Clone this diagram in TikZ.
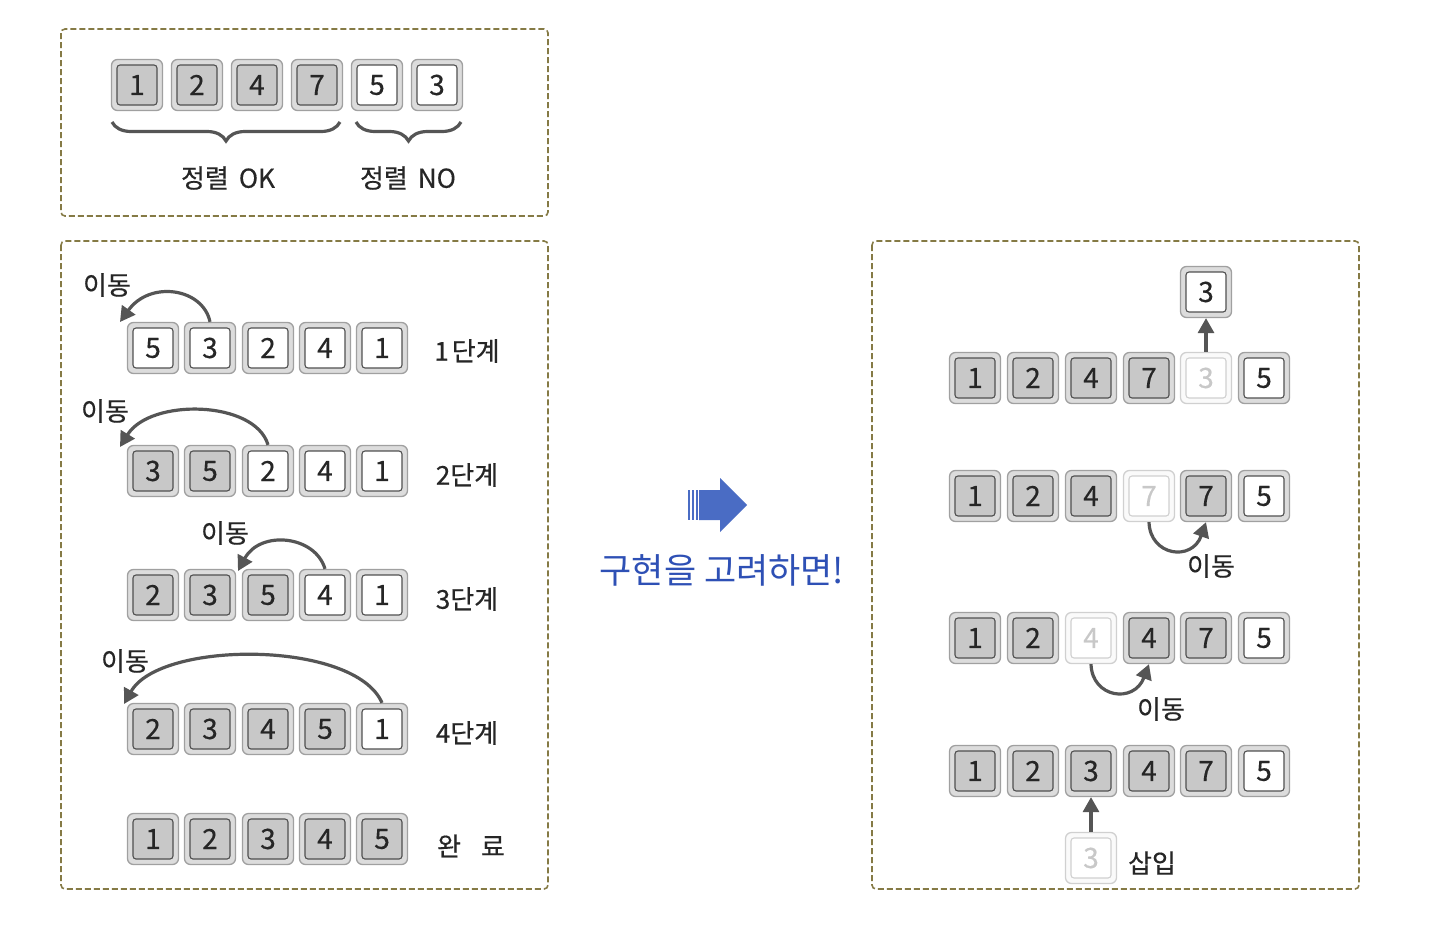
\documentclass[tikz,border=0pt]{standalone}
\usepackage{fontspec}
\setmainfont{Noto Sans CJK KR}
\newfontfamily\kf{Noto Sans CJK KR}[FakeBold=0.4]
\usetikzlibrary{arrows.meta,decorations.pathreplacing}
\definecolor{frameol}{HTML}{857A45}
\definecolor{keyout}{HTML}{DCDCDC}
\definecolor{keyoutln}{HTML}{A0A0A0}
\definecolor{keygray}{HTML}{C8C8C8}
\definecolor{keyln}{HTML}{505050}
\definecolor{fadeln}{HTML}{D0D0D0}
\definecolor{arcgray}{HTML}{555555}
\definecolor{bluearrow}{HTML}{4A6CC4}
\definecolor{bluetext}{HTML}{2E50B5}
\tikzset{
  panel/.style={draw=frameol, line width=1.6pt, dash pattern=on 6pt off 3pt, rounded corners=4pt},
  outerbase/.style={rounded corners=6pt, minimum width=51pt, minimum height=51pt, inner sep=0pt, line width=1.3pt},
  outerg/.style={outerbase, fill=keyout, draw=keyoutln},
  outerw/.style={outerbase, fill=keyout, draw=keyoutln},
  outerf/.style={outerbase, fill=white!85!keyout, draw=fadeln},
  innerbase/.style={rounded corners=3pt, minimum width=40pt, minimum height=40pt, inner sep=0pt, line width=1.1pt, font=\kf\fontsize{28}{28}\selectfont},
  innerg/.style={innerbase, fill=keygray, draw=keyln, text=black!85},
  innerw/.style={innerbase, fill=white, draw=keyln, text=black!85},
  innerf/.style={innerbase, fill=white, draw=fadeln, text=keygray},
  lbl/.style={font=\kf\fontsize{26}{26}\selectfont, text=black!85, inner sep=0pt},
  arc/.style={draw=arcgray, line width=3.2pt, -{Triangle[length=15pt,width=16pt]}},
  brc/.style={draw=arcgray, line width=3.2pt, decorate, decoration={brace, amplitude=19pt}},
}
\newcommand\kcell[5]{\node[outer#1] (#2) at (#3,#4) {}; \node[inner#1] (#2i) at (#2) {#5};}
\begin{document}
\begin{tikzpicture}[x=1pt,y=-1pt]
\useasboundingbox (0,0) rectangle (1440,926);
\fill[white] (0,0) rectangle (1440,926);
% frames
\draw[panel] (61,29) rectangle (548,216);
\draw[panel] (61,241) rectangle (548,889);
\draw[panel] (872,241) rectangle (1359,889);
% top panel
\kcell{g}{t1}{137}{85}{1}
\kcell{g}{t2}{197}{85}{2}
\kcell{g}{t3}{257}{85}{4}
\kcell{g}{t4}{317}{85}{7}
\kcell{w}{t5}{377}{85}{5}
\kcell{w}{t6}{437}{85}{3}
\coordinate (b1a) at (112,122); \coordinate (b1b) at (340,122);
\coordinate (b2a) at (356,122); \coordinate (b2b) at (461,122);
\draw[brc] (b1b) -- (b1a);
\draw[brc] (b2b) -- (b2a);
\node[lbl] (okl) at (228,178) {정렬\hspace{10pt}OK};
\node[lbl] (nol) at (408,178) {정렬\hspace{10pt}NO};
% left panel rows
\kcell{w}{a1}{153}{348}{5}
\kcell{w}{a2}{210}{348}{3}
\kcell{w}{a3}{268}{348}{2}
\kcell{w}{a4}{325}{348}{4}
\kcell{w}{a5}{382}{348}{1}
\node[lbl] (s1) at (467,351) {1\hspace{3pt}단계};
\kcell{g}{b1}{153}{471}{3}
\kcell{g}{b2}{210}{471}{5}
\kcell{w}{b3}{268}{471}{2}
\kcell{w}{b4}{325}{471}{4}
\kcell{w}{b5}{382}{471}{1}
\node[lbl] (s2) at (467,475) {2단계};
\kcell{g}{c1}{153}{595}{2}
\kcell{g}{c2}{210}{595}{3}
\kcell{g}{c3}{268}{595}{5}
\kcell{w}{c4}{325}{595}{4}
\kcell{w}{c5}{382}{595}{1}
\node[lbl] (s3) at (467,599) {3단계};
\kcell{g}{d1}{153}{729}{2}
\kcell{g}{d2}{210}{729}{3}
\kcell{g}{d3}{268}{729}{4}
\kcell{g}{d4}{325}{729}{5}
\kcell{w}{d5}{382}{729}{1}
\node[lbl] (s4) at (467,733) {4단계};
\kcell{g}{e1}{153}{839}{1}
\kcell{g}{e2}{210}{839}{2}
\kcell{g}{e3}{268}{839}{3}
\kcell{g}{e4}{325}{839}{4}
\kcell{g}{e5}{382}{839}{5}
\node[lbl] (s5) at (471,846) {완\hspace{20pt}료};
% left arcs
\node[lbl] (m1) at (107,285) {이동};
\coordinate (m1t) at (120,322);
\draw[arc] (a2.north) .. controls (203,288) and (150,280) .. (m1t);
\node[lbl] (m2) at (105,411) {이동};
\coordinate (m2t) at (120,447);
\draw[arc] (b3.north) .. controls (255,400) and (150,398) .. (m2t);
\node[lbl] (m3) at (225,533) {이동};
\coordinate (m3t) at (238,571);
\draw[arc] (c4.north) .. controls (315,535) and (260,530) .. (m3t);
\node[lbl] (m4) at (125,661) {이동};
\coordinate (m4t) at (124,704);
\draw[arc] (d5.north) .. controls (355,640) and (160,640) .. (m4t);
% middle arrow
\fill[bluearrow] (699,490) -- (720,490) -- (720,478) -- (747,505) -- (720,532) -- (720,520) -- (699,520) -- cycle;
\fill[bluearrow] (688,490) rectangle (690,520);
\fill[bluearrow] (692,490) rectangle (694,520);
\fill[bluearrow] (696,490) rectangle (698,520);
\node[font=\fontsize{35}{35}\selectfont, text=bluetext, inner sep=0pt] (impl) at (722,570) {구현을 고려하면!};
% right panel
\kcell{w}{top3}{1206}{292}{3}
\kcell{g}{p1}{975}{378}{1}
\kcell{g}{p2}{1033}{378}{2}
\kcell{g}{p3}{1091}{378}{4}
\kcell{g}{p4}{1149}{378}{7}
\kcell{f}{p5}{1206}{378}{3}
\kcell{w}{p6}{1264}{378}{5}
\draw[arc] (p5.north) -- (top3.south);
\kcell{g}{q1}{975}{496}{1}
\kcell{g}{q2}{1033}{496}{2}
\kcell{g}{q3}{1091}{496}{4}
\kcell{f}{q4}{1149}{496}{7}
\kcell{g}{q5}{1206}{496}{7}
\kcell{w}{q6}{1264}{496}{5}
\draw[arc] (q4.south) .. controls (1150,556) and (1192,562) .. (q5.south);
\node[lbl] (m5) at (1211,566) {이동};
\kcell{g}{r1}{975}{638}{1}
\kcell{g}{r2}{1033}{638}{2}
\kcell{f}{r3}{1091}{638}{4}
\kcell{g}{r4}{1149}{638}{4}
\kcell{g}{r5}{1206}{638}{7}
\kcell{w}{r6}{1264}{638}{5}
\draw[arc] (r3.south) .. controls (1092,698) and (1134,704) .. (r4.south);
\node[lbl] (m6) at (1161,709) {이동};
\kcell{g}{u1}{975}{771}{1}
\kcell{g}{u2}{1033}{771}{2}
\kcell{g}{u3}{1091}{771}{3}
\kcell{g}{u4}{1149}{771}{4}
\kcell{g}{u5}{1206}{771}{7}
\kcell{w}{u6}{1264}{771}{5}
\kcell{f}{ins}{1091}{858}{3}
\draw[arc] (ins.north) -- (u3.south);
\node[lbl] (m7) at (1152,863) {삽입};
\end{tikzpicture}
\end{document}
